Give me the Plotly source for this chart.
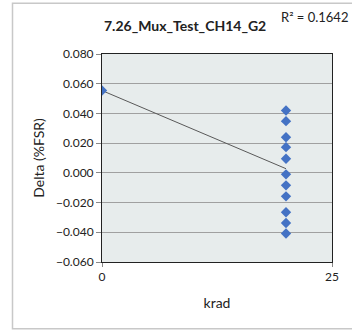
import plotly.graph_objects as go

krad = [0, 20, 20, 20, 20, 20, 20, 20, 20, 20, 20, 20]
delta = [0.0554, 0.0420, 0.0348, 0.0240, 0.0173, 0.0095, -0.0010, -0.0084, -0.0158, -0.0265, -0.0337, -0.0408]
trend_x = [0, 20]
trend_y = [0.0554, 0.0028]
title_text = "7.26_Mux_Test_CH14_G2"
r2_text = "R² = 0.1642"
y_ticks = [-0.06, -0.04, -0.02, 0.0, 0.02, 0.04, 0.06, 0.08]
x_ticks = [0, 25]

W, H = 352, 332
L, R, T, B = 102, 20, 53.5, 69.5
pw, ph = W - L - R, H - T - B

def px(x):
    return (x - L) / pw

def py(y):
    return (H - B - y) / ph

font = "Lato, 'Open Sans', sans-serif"

fig = go.Figure()
fig.add_trace(go.Scatter(x=trend_x, y=trend_y, mode="lines",
                         line=dict(color="#595959", width=1), hoverinfo="skip"))
fig.add_trace(go.Scatter(x=krad, y=delta, mode="markers",
                         marker=dict(symbol="diamond", size=8, color="#4472C4",
                                     line=dict(width=0))))

fig.update_layout(
    width=W, height=H,
    margin=dict(l=L, r=R, t=T, b=B, autoexpand=False),
    paper_bgcolor="white",
    plot_bgcolor="#e7ecec",
    showlegend=False,
    font=dict(family=font, size=12, color="#222"),
    xaxis=dict(range=[0, 25], tickvals=x_ticks, ticktext=[str(v) for v in x_ticks],
               showgrid=False, zeroline=False, showline=True, linecolor="#222",
               linewidth=1, mirror=True, ticks="outside", ticklen=4, tickcolor="#888",
               tickfont=dict(size=12), automargin=False,
               title=dict(text="krad", font=dict(size=14), standoff=14)),
    yaxis=dict(range=[-0.06, 0.08], tickvals=y_ticks, tickformat=".3f",
               showgrid=True, gridcolor="#a0a0a0", gridwidth=1, zeroline=False,
               showline=True, linecolor="#222", linewidth=1, mirror=True,
               ticks="outside", ticklen=5, tickcolor="#888",
               tickfont=dict(size=12), automargin=False,
               title=dict(text="Delta (%FSR)", font=dict(size=14), standoff=8)),
    shapes=[dict(type="rect", xref="paper", yref="paper",
                 x0=px(12.5), x1=px(360), y0=py(329.5), y1=py(2.5),
                 line=dict(color="#c8c8c8", width=1.5), fillcolor="rgba(0,0,0,0)",
                 layer="below")],
    annotations=[
        dict(text="<b>" + title_text + "</b>", xref="paper", yref="paper",
             x=px(185), y=py(25), xanchor="center", yanchor="middle",
             showarrow=False, font=dict(size=14, color="#222")),
        dict(text=r2_text, xref="paper", yref="paper",
             x=px(350), y=py(16), xanchor="right", yanchor="middle",
             showarrow=False, font=dict(size=13, color="#222")),
    ],
)

fig.write_html("out.html", config={"displayModeBar": False},
               post_script="document.body.style.margin='0';document.body.style.overflow='hidden';")
